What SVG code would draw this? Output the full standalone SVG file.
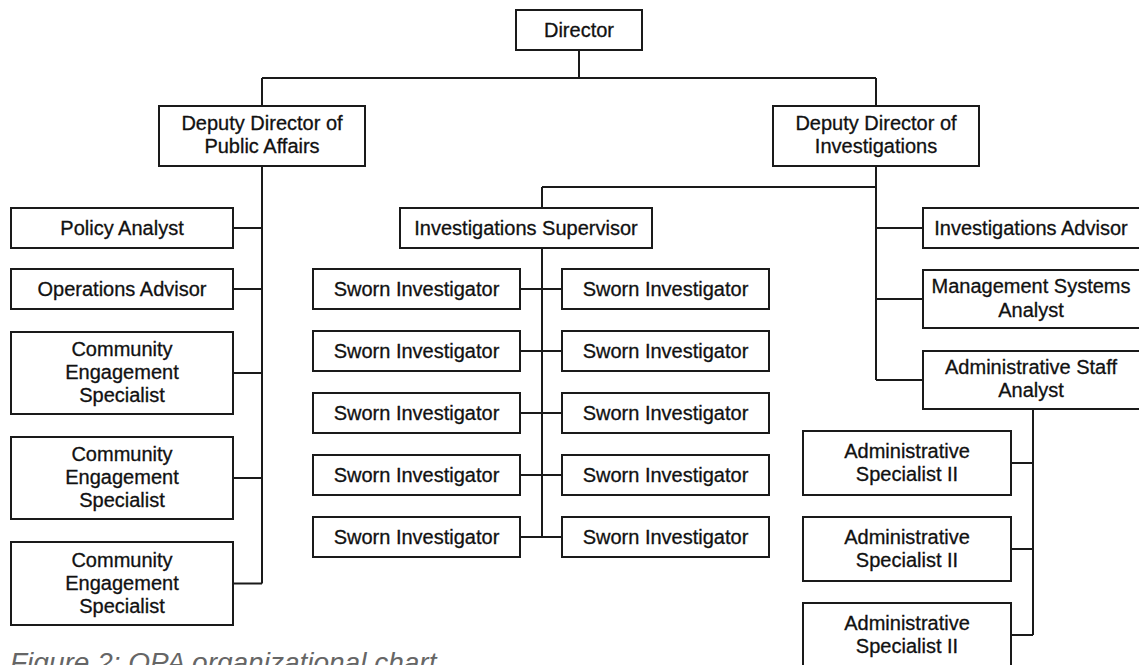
<svg xmlns="http://www.w3.org/2000/svg" width="1139" height="665" viewBox="0 0 1139 665">
<style>
.b{fill:#fff;stroke:#1a1a1a;stroke-width:2}
.t{font-family:"Liberation Sans",Arial,sans-serif;font-size:20px;fill:#111;stroke:#111;stroke-width:0.3;text-anchor:middle}
.c{fill:none;stroke:#1a1a1a;stroke-width:2}
.cap{font-family:"Liberation Sans",Arial,sans-serif;font-size:28px;font-style:italic;fill:#666}
</style>
<rect width="1139" height="665" fill="#fff"/>
<g id="connectors">
<path class="c" d="M579,50V78M262,78H876M262,78V106M876,78V106"/>
<path class="c" d="M262,166V583.5M233,228H262M233,289H262M233,373H262M233,478H262M233,583.5H262"/>
<path class="c" d="M876,166V380M542,187H876M542,187V208M876,228H923M876,299H923M876,380H923"/>
<path class="c" d="M542,248V537M520,289H562M520,351H562M520,413H562M520,475H562M520,537H562"/>
<path class="c" d="M1033,409V635M1011,463H1033M1011,549H1033M1011,635H1033"/>
</g>
<g id="director"><rect class="b" x="516" y="10" width="126" height="40"/><text class="t" x="579" y="37">Director</text></g>
<g id="dd-public-affairs"><rect class="b" x="159" y="106" width="206" height="60"/><text class="t" x="262" y="130">Deputy Director of</text><text class="t" x="262" y="153">Public Affairs</text></g>
<g id="dd-investigations"><rect class="b" x="773" y="106" width="206" height="60"/><text class="t" x="876" y="130">Deputy Director of</text><text class="t" x="876" y="153">Investigations</text></g>
<g id="policy-analyst"><rect class="b" x="11" y="208" width="222" height="40"/><text class="t" x="122" y="235">Policy Analyst</text></g>
<g id="operations-advisor"><rect class="b" x="11" y="269" width="222" height="40"/><text class="t" x="122" y="296">Operations Advisor</text></g>
<g id="ces-1"><rect class="b" x="11" y="332" width="222" height="82"/><text class="t" x="122" y="356">Community</text><text class="t" x="122" y="379">Engagement</text><text class="t" x="122" y="402">Specialist</text></g>
<g id="ces-2"><rect class="b" x="11" y="437" width="222" height="82"/><text class="t" x="122" y="461">Community</text><text class="t" x="122" y="484">Engagement</text><text class="t" x="122" y="507">Specialist</text></g>
<g id="ces-3"><rect class="b" x="11" y="542" width="222" height="83"/><text class="t" x="122" y="567">Community</text><text class="t" x="122" y="590">Engagement</text><text class="t" x="122" y="613">Specialist</text></g>
<g id="inv-supervisor"><rect class="b" x="400" y="208" width="252" height="40"/><text class="t" x="526" y="235">Investigations Supervisor</text></g>
<g id="sworn-l1"><rect class="b" x="313" y="269" width="207" height="40"/><text class="t" x="416.5" y="296">Sworn Investigator</text></g>
<g id="sworn-r1"><rect class="b" x="562" y="269" width="207" height="40"/><text class="t" x="665.5" y="296">Sworn Investigator</text></g>
<g id="sworn-l2"><rect class="b" x="313" y="331" width="207" height="40"/><text class="t" x="416.5" y="358">Sworn Investigator</text></g>
<g id="sworn-r2"><rect class="b" x="562" y="331" width="207" height="40"/><text class="t" x="665.5" y="358">Sworn Investigator</text></g>
<g id="sworn-l3"><rect class="b" x="313" y="393" width="207" height="40"/><text class="t" x="416.5" y="420">Sworn Investigator</text></g>
<g id="sworn-r3"><rect class="b" x="562" y="393" width="207" height="40"/><text class="t" x="665.5" y="420">Sworn Investigator</text></g>
<g id="sworn-l4"><rect class="b" x="313" y="455" width="207" height="40"/><text class="t" x="416.5" y="482">Sworn Investigator</text></g>
<g id="sworn-r4"><rect class="b" x="562" y="455" width="207" height="40"/><text class="t" x="665.5" y="482">Sworn Investigator</text></g>
<g id="sworn-l5"><rect class="b" x="313" y="517" width="207" height="40"/><text class="t" x="416.5" y="544">Sworn Investigator</text></g>
<g id="sworn-r5"><rect class="b" x="562" y="517" width="207" height="40"/><text class="t" x="665.5" y="544">Sworn Investigator</text></g>
<g id="inv-advisor"><rect class="b" x="923" y="208" width="222" height="40"/><text class="t" x="1031" y="235">Investigations Advisor</text></g>
<g id="mgmt-systems-analyst"><rect class="b" x="923" y="270" width="222" height="58"/><text class="t" x="1031" y="293">Management Systems</text><text class="t" x="1031" y="317">Analyst</text></g>
<g id="admin-staff-analyst"><rect class="b" x="923" y="351" width="222" height="58"/><text class="t" x="1031" y="374">Administrative Staff</text><text class="t" x="1031" y="397">Analyst</text></g>
<g id="admin-spec-1"><rect class="b" x="803" y="431" width="208" height="64"/><text class="t" x="907" y="458">Administrative</text><text class="t" x="907" y="481">Specialist II</text></g>
<g id="admin-spec-2"><rect class="b" x="803" y="517" width="208" height="64"/><text class="t" x="907" y="544">Administrative</text><text class="t" x="907" y="567">Specialist II</text></g>
<g id="admin-spec-3"><rect class="b" x="803" y="603" width="208" height="64"/><text class="t" x="907" y="630">Administrative</text><text class="t" x="907" y="653">Specialist II</text></g>
<text class="cap" x="10" y="672">Figure 2: OPA organizational chart</text>
</svg>
